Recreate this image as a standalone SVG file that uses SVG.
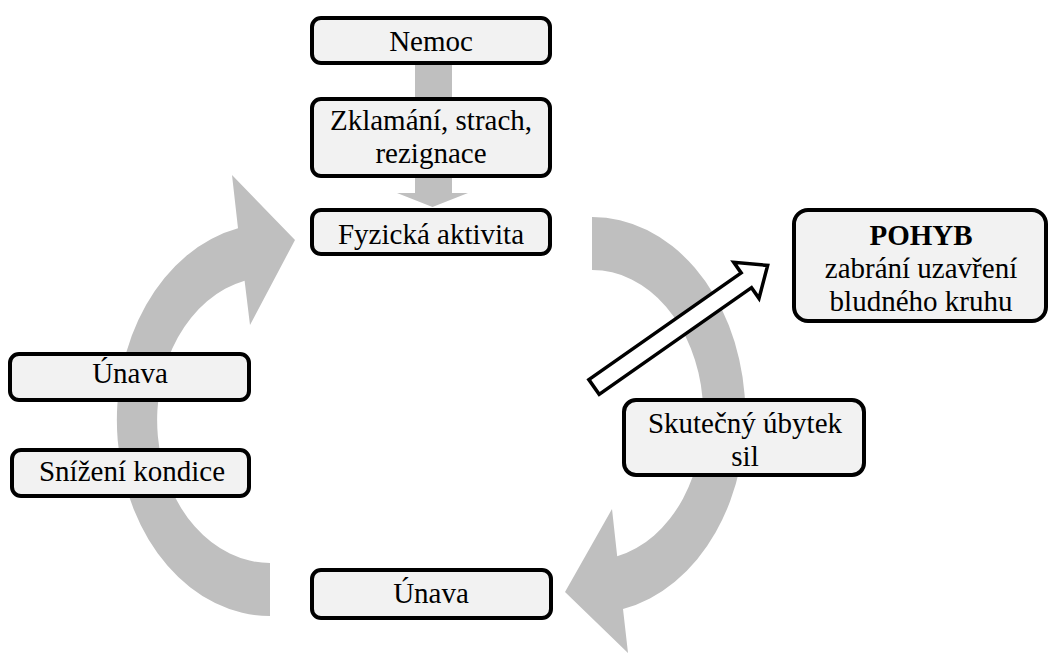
<svg xmlns="http://www.w3.org/2000/svg" width="1050" height="655" viewBox="0 0 1050 655">
<style>
.box{fill:#f2f2f2;stroke:#000;stroke-width:4}
.t{font-family:'Liberation Serif','Times New Roman',serif;font-size:29px;fill:#000;text-anchor:middle}
.b{font-weight:bold}
.g{fill:#bfbfbf;stroke:none}
</style>
<rect width="1050" height="655" fill="#fff"/>
<g id="connectors">
<path class="g" d="M270,616 A153,196 0 0 1 238,228.3 L232,175 L295,240 L250,325 L244.6,280.7 A113,143 0 0 0 270,563 Z"/>
<path class="g" d="M592,217 A153,198 0 0 1 623,609 L628,653 L565,592 L612,509 L617.2,556.3 A111,145 0 0 0 592,270 Z"/>
<rect class="g" x="415" y="63" width="37" height="36"/>
<path class="g" d="M415,176 L452,176 L452,193 L468,193 L432.5,207 L397,193 L415,193 Z"/>
<polygon transform="translate(594,387) rotate(-35)" points="0,-9 186,-9 186,-22 212,0 186,22 186,9 0,9" fill="#fff" stroke="#000" stroke-width="3.5" stroke-linejoin="miter"/>
</g>
<g id="nemoc"><rect class="box" x="312" y="18" width="238" height="45" rx="9"/><text class="t" x="431" y="51">Nemoc</text></g>
<g id="zklamani"><rect class="box" x="312" y="99" width="238" height="77" rx="9"/><text class="t" x="431" y="130">Zklamání, strach,</text><text class="t" x="431" y="163">rezignace</text></g>
<g id="fyzicka"><rect class="box" x="312" y="210" width="238" height="44" rx="9"/><text class="t" x="431" y="244">Fyzická aktivita</text></g>
<g id="pohyb"><rect class="box" x="794" y="210" width="252" height="111" rx="14"/><text class="t b" x="921" y="245">POHYB</text><text class="t" x="921" y="278">zabrání uzavření</text><text class="t" x="921" y="311">bludného kruhu</text></g>
<g id="unava-left"><rect class="box" x="10" y="354" width="239" height="46" rx="9"/><text class="t" x="130" y="383">Únava</text></g>
<g id="snizeni"><rect class="box" x="12" y="450" width="237" height="46" rx="9"/><text class="t" x="132" y="481">Snížení kondice</text></g>
<g id="unava-bottom"><rect class="box" x="312" y="570" width="239" height="48" rx="9"/><text class="t" x="431" y="603">Únava</text></g>
<g id="skutecny"><rect class="box" x="624" y="400" width="240" height="75" rx="12"/><text class="t" x="745" y="433">Skutečný úbytek</text><text class="t" x="745" y="466">sil</text></g>
</svg>
